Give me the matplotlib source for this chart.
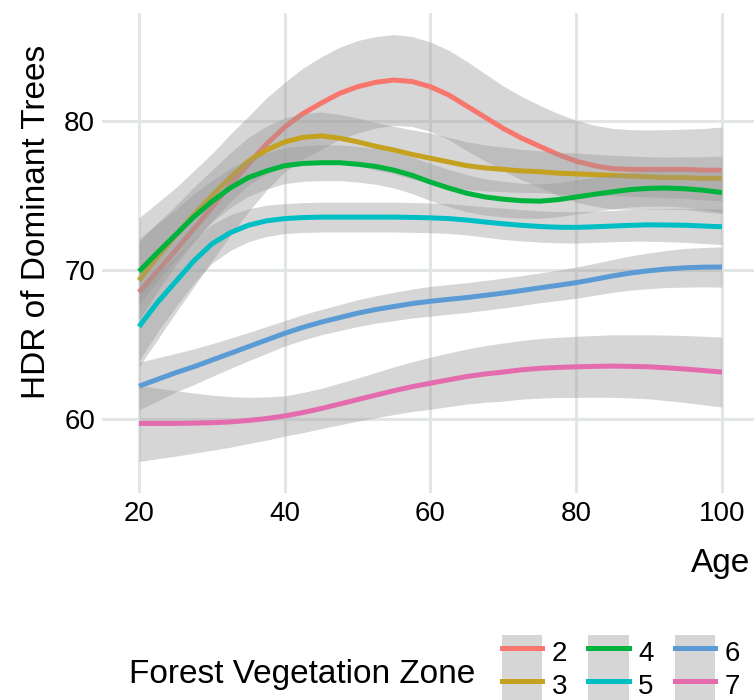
import matplotlib
matplotlib.use('Agg')
import matplotlib.pyplot as plt
from matplotlib.patches import Patch
from matplotlib.lines import Line2D
import numpy as np

plt.rcParams['font.family'] = ['Liberation Sans', 'DejaVu Sans']

###  DATA  ###

age = [20, 22.5, 25, 27.5, 30, 32.5, 35, 37.5, 40, 42.5, 45, 47.5, 50, 52.5, 55, 57.5,
       60, 62.5, 65, 67.5, 70, 72.5, 75, 77.5, 80, 82.5, 85, 87.5, 90, 92.5, 95, 97.5, 100]

zones = ['2', '3', '4', '5', '6', '7']
colors = ['#F8766D', '#C4A11F', '#00B33C', '#00BFC4', '#5B9BD5', '#E46CAE']

# smoothed fit for each zone
fit_2 = [68.5, 69.9, 71.3, 72.75, 74.2, 75.7, 77.1, 78.45, 79.6, 80.5, 81.2, 81.85, 82.3, 82.6, 82.75, 82.65,
         82.3, 81.75, 81.0, 80.25, 79.5, 78.85, 78.3, 77.75, 77.3, 77.0, 76.8, 76.75, 76.75, 76.75, 76.75, 76.7, 76.7]
fit_3 = [69.3, 70.85, 72.3, 73.7, 75.0, 76.2, 77.3, 78.05, 78.6, 78.9, 79.0, 78.85, 78.6, 78.3, 78.05, 77.75,
         77.5, 77.25, 77.0, 76.85, 76.75, 76.65, 76.6, 76.5, 76.45, 76.4, 76.35, 76.3, 76.25, 76.2, 76.2, 76.15, 76.15]
fit_4 = [69.9, 71.15, 72.35, 73.55, 74.6, 75.5, 76.2, 76.65, 77.0, 77.15, 77.2, 77.2, 77.1, 76.95, 76.7, 76.35,
         75.9, 75.5, 75.15, 74.9, 74.75, 74.65, 74.62, 74.72, 74.9, 75.08, 75.25, 75.4, 75.48, 75.5, 75.45, 75.35, 75.2]
fit_5 = [66.2, 67.8, 69.2, 70.6, 71.75, 72.5, 73.0, 73.3, 73.45, 73.52, 73.55, 73.55, 73.55, 73.55, 73.55, 73.53,
         73.5, 73.45, 73.35, 73.22, 73.1, 73.0, 72.92, 72.87, 72.86, 72.9, 72.95, 73.0, 73.03, 73.02, 73.0, 72.95, 72.9]
fit_6 = [62.2, 62.65, 63.1, 63.5, 63.95, 64.4, 64.85, 65.3, 65.75, 66.15, 66.5, 66.8, 67.1, 67.35, 67.55, 67.75,
         67.9, 68.03, 68.15, 68.3, 68.45, 68.62, 68.8, 68.97, 69.15, 69.37, 69.6, 69.8, 69.95, 70.07, 70.15, 70.19, 70.2]
fit_7 = [59.7, 59.7, 59.7, 59.72, 59.75, 59.8, 59.9, 60.03, 60.2, 60.43, 60.7, 61.0, 61.3, 61.6, 61.9, 62.17,
         62.4, 62.63, 62.85, 63.02, 63.15, 63.3, 63.4, 63.46, 63.5, 63.53, 63.55, 63.53, 63.5, 63.43, 63.35, 63.25, 63.15]

# half width of the confidence band
ci_2 = [5.0, 4.6, 4.2, 3.9, 3.6, 3.4, 3.2, 3.1, 3.0, 3.05, 3.1, 3.1, 3.1, 3.07, 3.05, 3.02,
        3.0, 3.0, 3.0, 2.92, 2.85, 2.8, 2.75, 2.75, 2.75, 2.72, 2.7, 2.67, 2.65, 2.67, 2.7, 2.8, 2.9]
ci_3 = [2.6, 2.3, 2.0, 1.85, 1.7, 1.65, 1.6, 1.6, 1.6, 1.6, 1.6, 1.6, 1.6, 1.6, 1.6, 1.65,
        1.7, 1.65, 1.6, 1.55, 1.5, 1.45, 1.4, 1.4, 1.4, 1.37, 1.35, 1.35, 1.35, 1.37, 1.4, 1.45, 1.5]
ci_4 = [2.2, 1.95, 1.7, 1.55, 1.4, 1.32, 1.25, 1.22, 1.2, 1.2, 1.2, 1.2, 1.2, 1.2, 1.2, 1.22,
        1.25, 1.25, 1.25, 1.22, 1.2, 1.17, 1.15, 1.15, 1.15, 1.15, 1.15, 1.17, 1.2, 1.22, 1.25, 1.3, 1.35]
ci_5 = [2.3, 2.0, 1.7, 1.5, 1.3, 1.2, 1.1, 1.05, 1.0, 1.0, 1.0, 1.0, 1.0, 1.0, 1.0, 1.0,
        1.0, 1.0, 1.0, 1.02, 1.05, 1.05, 1.05, 1.05, 1.05, 1.05, 1.05, 1.07, 1.1, 1.12, 1.15, 1.17, 1.2]
ci_6 = [1.6, 1.45, 1.3, 1.2, 1.1, 1.02, 0.95, 0.9, 0.85, 0.85, 0.85, 0.87, 0.9, 0.92, 0.95, 0.97,
        1.0, 1.0, 1.0, 1.0, 1.0, 1.0, 1.0, 1.02, 1.05, 1.07, 1.1, 1.15, 1.2, 1.25, 1.3, 1.32, 1.35]
ci_7 = [2.55, 2.37, 2.2, 2.02, 1.85, 1.7, 1.55, 1.45, 1.35, 1.35, 1.35, 1.4, 1.45, 1.52, 1.6, 1.67,
        1.75, 1.8, 1.85, 1.9, 1.95, 1.97, 2.0, 2.02, 2.05, 2.07, 2.1, 2.12, 2.15, 2.2, 2.25, 2.3, 2.35]

fits = [fit_2, fit_3, fit_4, fit_5, fit_6, fit_7]
cis = [ci_2, ci_3, ci_4, ci_5, ci_6, ci_7]

xticks = [20, 40, 60, 80, 100]
yticks = [60, 70, 80]

###  PLOT  ###

W, H = 754, 700
fig = plt.figure(figsize=(W / 100, H / 100), dpi=100)
ax = fig.add_axes([102 / W, (H - 493) / H, (W - 102) / W, 480 / H])

band = '#999999'
lw = 3.6
z = 2
for fit, ci, col in zip(fits, cis, colors):
    fit = np.array(fit)
    ci = np.array(ci)
    ax.fill_between(age, fit - ci, fit + ci, color=band, alpha=0.4, lw=0, zorder=z)
    ax.plot(age, fit, color=col, lw=lw, solid_capstyle='butt', solid_joinstyle='round', zorder=z + 1)
    z += 2

ax.set_xlim(14.92, 104.4)
ax.set_ylim(55.03, 87.25)
ax.set_xticks(xticks)
ax.set_yticks(yticks)
ax.grid(True, color='#E3E6E6', lw=2.2)
ax.set_axisbelow(True)
for s in ax.spines.values():
    s.set_visible(False)
ax.tick_params(axis='both', length=0, labelsize=20, colors='black')
ax.tick_params(axis='y', pad=5)
ax.tick_params(axis='x', pad=6)

fig.text(750 / W, 1 - 572 / H, 'Age', ha='right', va='baseline', fontsize=24)
fig.text(45 / W, 1 - 222 / H, 'HDR of Dominant Trees', rotation=90,
         rotation_mode='anchor', ha='center', va='baseline', fontsize=24)

# legend below the panel, title on the left
fig.text(129 / W, 1 - 683 / H, 'Forest Vegetation Zone', ha='left', va='baseline', fontsize=24)
handles = [(Patch(facecolor=band, alpha=0.4, edgecolor='none'), Line2D([], [], color=c, lw=lw))
           for c in colors]
fig.legend(handles, zones, ncol=3, loc='upper left', bbox_to_anchor=(502 / W, 1 - 635 / H),
           frameon=False, fontsize=20, handlelength=1.45, handleheight=1.45,
           handletextpad=0.35, columnspacing=0.75, labelspacing=0.0,
           borderpad=0.0, borderaxespad=0.0)

fig.savefig('out.png', dpi=100)
